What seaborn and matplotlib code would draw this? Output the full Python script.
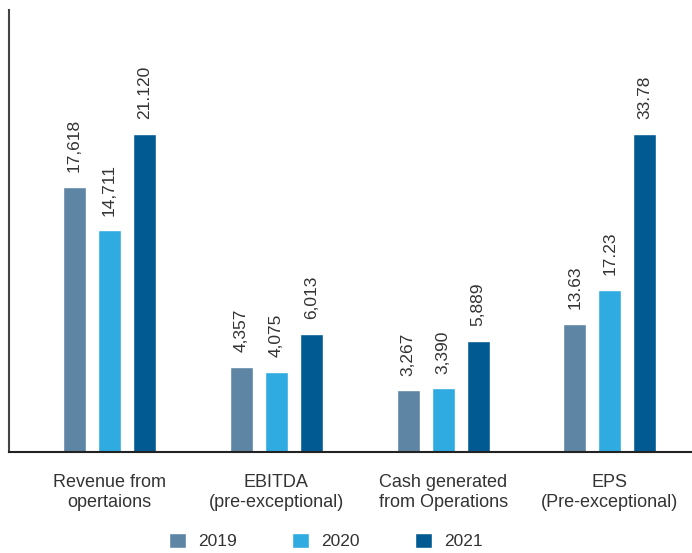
import matplotlib
matplotlib.use("Agg")
import matplotlib.pyplot as plt
import seaborn as sns
import pandas as pd

# Key financial indicators, FY2019-FY2021
categories = [
    "Revenue from\nopertaions",
    "EBITDA\n(pre-exceptional)",
    "Cash generated\nfrom Operations",
    "EPS\n(Pre-exceptional)",
]
years = ["2019", "2020", "2021"]
values_2019 = [17618, 4357, 3267, 13.63]
values_2020 = [14711, 4075, 3390, 17.23]
values_2021 = [21120, 6013, 5889, 33.78]
labels_2019 = ["17,618", "4,357", "3,267", "13.63"]
labels_2020 = ["14,711", "4,075", "3,390", "17.23"]
labels_2021 = ["21.120", "6,013", "5,889", "33.78"]

# Each metric has its own unit, so every group is drawn on its own scale:
# the group's largest value reaches this share of the revenue peak.
group_peak = [1.0, 0.371, 0.349, 1.0]

colors = {"2019": "#5e85a3", "2020": "#2fabe2", "2021": "#025a92"}

series = {"2019": values_2019, "2020": values_2020, "2021": values_2021}
series_labels = {"2019": labels_2019, "2020": labels_2020, "2021": labels_2021}
group_max = [max(a, b, c) for a, b, c in zip(values_2019, values_2020, values_2021)]

rows = []
for yr in years:
    for i, cat in enumerate(categories):
        v = series[yr][i]
        rows.append({"metric": cat, "year": yr, "value": v,
                     "height": v / group_max[i] * group_peak[i]})
df = pd.DataFrame(rows)

sns.set_style("white")
plt.rcParams["font.family"] = ["Liberation Sans", "DejaVu Sans"]

W, H = 692, 553
fig = plt.figure(figsize=(W / 100, H / 100), dpi=100)
ax = fig.add_axes([9 / W, (H - 452) / H, (691 - 9) / W, (452 - 10) / H])

sns.barplot(data=df, x="metric", y="height", hue="year", order=categories,
            hue_order=years, palette=colors, width=0.629, gap=0.343,
            saturation=1, ax=ax)

for container, yr in zip(ax.containers, years):
    ax.bar_label(container, labels=series_labels[yr], rotation=90,
                 padding=10.5, fontsize=12.5, color="#333333")

ax.set_xlim(-0.6025, 3.486)
ax.set_ylim(0, 442 / 318)
ax.set_yticks([])
ax.set_xlabel("")
ax.set_ylabel("")
ax.tick_params(axis="x", length=0, pad=15.5, labelsize=13, labelcolor="#333333")
plt.setp(ax.get_xticklabels(), linespacing=1.3)

for side in ("top", "right"):
    ax.spines[side].set_visible(False)
ax.spines["left"].set_color("#444444")
ax.spines["left"].set_linewidth(1.5)
ax.spines["bottom"].set_color("#222222")
ax.spines["bottom"].set_linewidth(1.5)

sns.move_legend(ax, "center", bbox_to_anchor=(0.471, 0.022),
                bbox_transform=fig.transFigure, ncol=3, frameon=False,
                title=None, fontsize=12.5, handlelength=0.95, handleheight=0.95,
                handletextpad=0.7, columnspacing=3.2, borderpad=0.2)
for t in ax.get_legend().get_texts():
    t.set_color("#333333")

fig.savefig("out.png", dpi=100)
